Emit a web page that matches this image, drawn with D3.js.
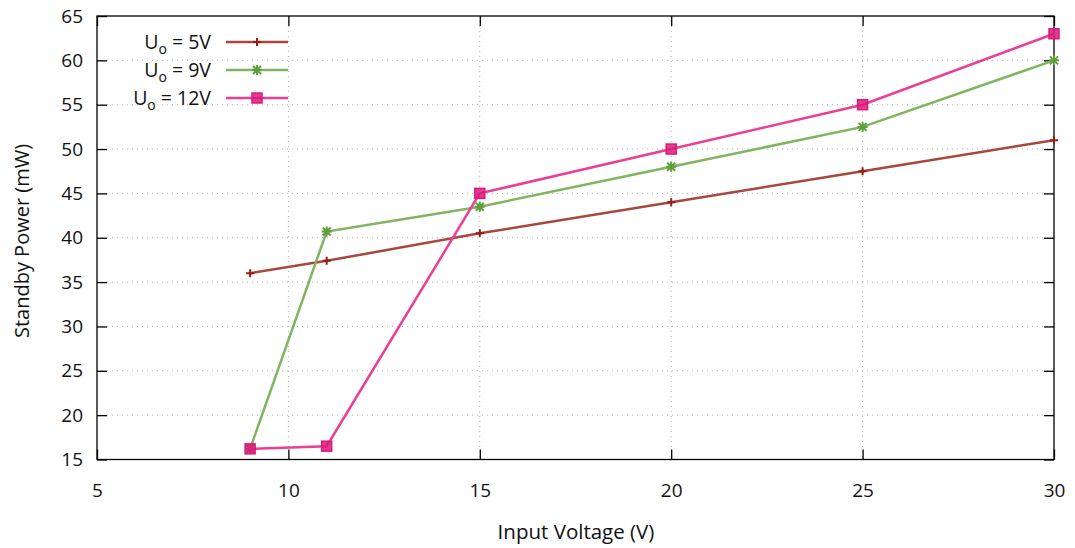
<!DOCTYPE html>
<html>
<head>
<meta charset="utf-8">
<script src="https://cdn.jsdelivr.net/npm/d3@7"></script>
<style>
body{margin:0;background:#fff;}
text{font-family:"Open Sans","DejaVu Sans",sans-serif;fill:#111;}
</style>
</head>
<body>
<div id="chart"></div>
<script>
var w = 1075, h = 548;

// data
var voltages = [9, 11, 15, 20, 25, 30];
var uo5 = [36, 37.4, 40.5, 44, 47.5, 51];
var uo9 = [16.2, 40.7, 43.5, 48, 52.5, 60];
var uo12 = [16.2, 16.5, 45, 50, 55, 63];
var seriesNames = ["5V", "9V", "12V"];
var xTicks = [5, 10, 15, 20, 25, 30];
var yTicks = [15, 20, 25, 30, 35, 40, 45, 50, 55, 60, 65];

var series = [
  {name: seriesNames[0], vals: uo5, line: "#a8473d", mark: "#8e2018", shape: "plus"},
  {name: seriesNames[1], vals: uo9, line: "#80b55f", mark: "#5e9f3c", shape: "star"},
  {name: seriesNames[2], vals: uo12, line: "#ec3f93", mark: "#dc1a7a", shape: "square"}
];

var pLeft = 97, pRight = 1054, pTop = 16, pBottom = 459.5;

var x = d3.scaleLinear().domain([5, 30]).range([pLeft, pRight]);
var y = d3.scaleLinear().domain([15, 65]).range([pBottom, pTop]);

var svg = d3.select("#chart").append("svg")
    .attr("width", w)
    .attr("height", h);

// grid
var grid = svg.append("g");
grid.selectAll(".gx").data(xTicks.slice(1, -1)).enter().append("line")
    .attr("x1", function(d){return x(d);}).attr("x2", function(d){return x(d);})
    .attr("y1", pTop).attr("y2", pBottom)
    .attr("stroke", "#b0b0b0").attr("stroke-width", 1).attr("stroke-dasharray", "1,4");
grid.selectAll(".gy").data(yTicks.slice(1, -1)).enter().append("line")
    .attr("y1", function(d){return y(d);}).attr("y2", function(d){return y(d);})
    .attr("x1", pLeft).attr("x2", pRight)
    .attr("stroke", "#b0b0b0").attr("stroke-width", 1).attr("stroke-dasharray", "1,4");

// axes - ticks inward, mirrored like gnuplot
var tl = 10;
svg.append("g").attr("transform", "translate(0," + pBottom + ")")
    .call(d3.axisBottom(x).tickValues(xTicks).tickSize(-tl).tickPadding(24))
    .call(function(g){g.select(".domain").remove();});
svg.append("g").attr("transform", "translate(0," + pTop + ")")
    .call(d3.axisTop(x).tickValues(xTicks).tickSize(-tl).tickFormat(""))
    .call(function(g){g.select(".domain").remove();});
svg.append("g").attr("transform", "translate(" + pLeft + ",0)")
    .call(d3.axisLeft(y).tickValues(yTicks).tickSize(-tl).tickPadding(14))
    .call(function(g){g.select(".domain").remove();});
svg.append("g").attr("transform", "translate(" + pRight + ",0)")
    .call(d3.axisRight(y).tickValues(yTicks).tickSize(-tl).tickFormat(""))
    .call(function(g){g.select(".domain").remove();});

svg.selectAll(".tick line").attr("stroke", "#000").attr("stroke-width", 1.3);
svg.selectAll(".tick text").attr("font-size", 19).attr("font-family", "Open Sans, sans-serif").attr("fill", "#111");

svg.append("rect")
    .attr("x", pLeft).attr("y", pTop)
    .attr("width", pRight - pLeft).attr("height", pBottom - pTop)
    .attr("fill", "none").attr("stroke", "#000").attr("stroke-width", 1.3);

// axis titles
svg.append("text").attr("x", 576).attr("y", 539)
    .attr("text-anchor", "middle").attr("font-size", 20.5).text("Input Voltage (V)");
svg.append("text").attr("transform", "translate(29,241) rotate(-90)")
    .attr("text-anchor", "middle").attr("font-size", 20).text("Standby Power (mW)");

function drawMarker(g, shape, color, cx, cy) {
  if (shape == "plus") {
    g.append("path").attr("d", "M" + (cx - 4) + "," + cy + "h8M" + cx + "," + (cy - 4) + "v8")
      .attr("stroke", color).attr("stroke-width", 2).attr("fill", "none");
  } else if (shape == "star") {
    g.append("path").attr("d", "M" + (cx - 4) + "," + (cy - 4) + "l8,8M" + (cx - 4) + "," + (cy + 4) + "l8,-8M" + (cx - 5) + "," + cy + "h10M" + cx + "," + (cy - 5) + "v10")
      .attr("stroke", color).attr("stroke-width", 2).attr("fill", "none");
  } else {
    g.append("rect").attr("x", cx - 5).attr("y", cy - 5).attr("width", 10).attr("height", 10)
      .attr("fill", color).attr("fill-opacity", 0.85).attr("stroke", color).attr("stroke-width", 1.5);
  }
}

var line = d3.line()
    .x(function(d, i){return x(voltages[i]);})
    .y(function(d){return y(d);});

series.forEach(function(s) {
  var g = svg.append("g");
  g.append("path").datum(s.vals)
    .attr("d", line)
    .attr("fill", "none").attr("stroke", s.line).attr("stroke-width", 2.5);
  s.vals.forEach(function(v, i) {
    drawMarker(g, s.shape, s.mark, x(voltages[i]), y(v));
  });
});

// legend
var legendY = [42, 70, 98];
series.forEach(function(s, i) {
  var g = svg.append("g");
  var t = g.append("text").attr("x", 211).attr("y", legendY[i] + 7)
      .attr("text-anchor", "end").attr("font-size", 19.5);
  t.append("tspan").text("U");
  t.append("tspan").attr("font-size", 14).attr("dy", 5).text("o");
  t.append("tspan").attr("dy", -5).text(" = " + s.name);
  g.append("line").attr("x1", 226).attr("x2", 288).attr("y1", legendY[i]).attr("y2", legendY[i])
    .attr("stroke", s.line).attr("stroke-width", 2.5);
  drawMarker(g, s.shape, s.mark, 257, legendY[i]);
});
</script>
</body>
</html>
